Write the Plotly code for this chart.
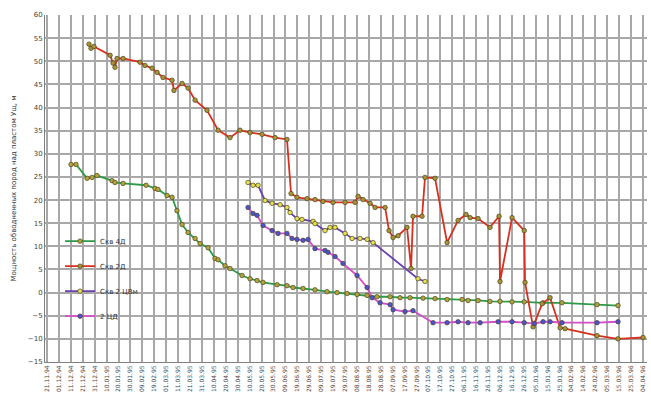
import pandas as pd
import plotly.graph_objects as go

# Start of observations; x values are days since this date
start = pd.Timestamp("1994-11-21")

# Скв 4Д
days_4d = [20.1, 24.3, 33.6, 37.8, 41.9, 54.5, 57.0, 63.8, 83.1, 90.6, 93.1, 100.7, 104.9,
           109.0, 113.3, 118.3, 124.2, 128.4, 135.1, 140.9, 143.5, 149.3, 153.5, 163.6,
           170.3, 176.2, 181.2, 193.0, 201.3, 206.4, 214.8, 224.8, 234.9, 243.3, 251.7,
           260.1, 268.5, 276.8, 287.8, 296.1, 304.5, 315.4, 325.5, 335.6, 348.2, 353.2,
           361.6, 371.6, 380.0, 390.1, 400.3, 416.1, 432.0, 461.4, 479.0]
vals_4d = [27.7, 27.7, 24.7, 24.9, 25.3, 24.2, 23.8, 23.6, 23.2, 22.5, 22.3, 21.0, 20.6,
           17.7, 14.7, 13.0, 11.7, 10.6, 9.7, 7.4, 7.1, 5.8, 5.2, 3.7,
           3.0, 2.6, 2.2, 1.7, 1.5, 1.1, 0.9, 0.6, 0.2, 0.0, -0.2,
           -0.4, -0.6, -0.9, -0.9, -1.1, -1.1, -1.2, -1.3, -1.5, -1.5, -1.7,
           -1.7, -1.9, -1.9, -2.0, -2.0, -2.2, -2.2, -2.6, -2.8]

# Скв 2Д
days_2d = [35.2, 36.9, 39.4, 52.9, 55.4, 57.0, 58.7, 63.8, 78.0, 82.2, 88.1, 92.3, 97.3,
           104.9, 106.5, 113.3, 118.3, 124.2, 134.2, 143.5, 153.5, 161.9, 170.3, 180.4,
           191.3, 201.3, 204.7, 209.7, 218.1, 224.8, 231.5, 239.9, 250.0, 258.4, 260.9,
           265.1, 271.0, 275.2, 283.6, 286.9, 290.3, 294.5, 302.0, 305.4, 307.0, 314.6,
           317.1, 325.5, 335.6, 344.8, 351.5, 354.9, 361.6, 371.6, 379.2, 380.0, 390.1,
           400.3, 401.0, 407.7, 415.3, 422.0, 430.4, 434.6, 461.4, 479.0, 500.0]
vals_2d = [53.7, 52.8, 53.2, 51.3, 49.6, 48.7, 50.6, 50.6, 49.8, 49.1, 48.5, 47.6, 46.5,
           45.9, 43.7, 45.2, 44.2, 41.6, 39.4, 35.1, 33.5, 35.1, 34.6, 34.2,
           33.5, 33.1, 21.4, 20.6, 20.3, 20.1, 19.7, 19.5, 19.5, 19.5, 20.8,
           20.1, 19.3, 18.4, 18.4, 13.4, 11.9, 12.3, 14.1, 5.2, 16.5, 16.5,
           24.9, 24.7, 10.8, 15.6, 16.9, 16.2, 16.0, 14.1, 16.5, 2.4, 16.2,
           13.4, 2.2, -7.4, -2.4, -1.1, -7.6, -7.8, -9.3, -10.0, -9.7]

# Скв 2 ЦВм
days_2cv = [168.6, 172.8, 177.0, 182.9, 188.8, 195.5, 201.3, 203.9, 209.7, 213.9, 223.2,
            224.8, 233.2, 237.4, 241.6, 250.0, 255.9, 262.6, 268.5, 273.5, 311.2, 317.1]
vals_2cv = [23.8, 23.2, 23.2, 19.9, 19.3, 19.0, 18.4, 17.3, 16.0, 15.8, 15.4,
            14.9, 13.4, 14.1, 14.1, 12.8, 11.7, 11.7, 11.5, 10.8, 3.0, 2.4]

# 2 ЦД
days_2cd = [168.6, 172.8, 176.2, 181.2, 188.8, 193.8, 201.3, 205.5, 209.7, 214.8, 219.0,
            224.8, 233.2, 235.7, 241.6, 248.3, 260.1, 268.5, 272.7, 279.4, 287.8, 290.3,
            300.3, 307.0, 323.8, 335.6, 344.8, 353.2, 363.3, 378.4, 390.1, 400.3, 408.7,
            416.1, 422.0, 432.0, 461.4, 479.0]
vals_2cd = [18.4, 17.1, 16.7, 14.5, 13.4, 12.8, 12.8, 11.7, 11.5, 11.3, 11.5,
            9.5, 9.1, 8.7, 7.8, 6.3, 3.7, 1.1, -1.1, -2.2, -2.6, -3.7,
            -4.1, -3.9, -6.5, -6.5, -6.3, -6.5, -6.5, -6.3, -6.3, -6.5, -6.7,
            -6.3, -6.3, -6.5, -6.5, -6.3]

series = [
    ("Скв 4Д", days_4d, vals_4d, "#2e9a48", "#b4a43a"),
    ("Скв 2Д", days_2d, vals_2d, "#d8301e", "#a89434"),
    ("Скв 2 ЦВм", days_2cv, vals_2cv, "#6a3fb0", "#e6e24a"),
    ("2 ЦД", days_2cd, vals_2cd, "#d24fc8", "#4a52d8"),
]


def to_dates(days):
    return start + pd.to_timedelta(days, unit="D")


fig = go.Figure()
for i, (name, d, v, lc, mc) in enumerate(series):
    fig.add_trace(go.Scatter(
        x=to_dates(d), y=v, name=name, mode="lines+markers",
        legendgroup=str(i),
        line=dict(color=lc, width=1.8),
        marker=dict(symbol="circle", size=4.5, color=mc,
                    line=dict(color="#4a4420", width=0.7)),
    ))

x_lo = start - pd.Timedelta(days=1.7)
x_hi = start + pd.Timedelta(days=503.3)

fig.update_layout(
    width=651, height=403,
    margin=dict(l=45, r=4, t=15, b=41),
    paper_bgcolor="white", plot_bgcolor="white",
    font=dict(family="DejaVu Sans", size=8, color="#333333"),
    showlegend=True,
    legend=dict(
        x=0.025, y=0.39, xanchor="left", yanchor="top",
        bgcolor="rgba(0,0,0,0)", tracegroupgap=6,
        font=dict(size=7, color="#333333"), itemwidth=30,
    ),
    xaxis=dict(
        type="date", range=[x_lo, x_hi],
        tick0=start, dtick=10 * 86400000, tickformat="%d.%m.%y",
        tickangle=-90, tickfont=dict(size=6, color="#444444"),
        showgrid=True, gridcolor="#a8a8a8", gridwidth=1.5,
        showline=True, linecolor="#808080", linewidth=1,
        ticks="", zeroline=False,
    ),
    yaxis=dict(
        range=[-15, 60], dtick=5,
        tickfont=dict(size=7, color="#444444"),
        showgrid=True, gridcolor="#a8a8a8", gridwidth=1.5,
        showline=True, linecolor="#808080", linewidth=1,
        ticks="", zeroline=False,
        title=dict(text="Мощность обводненных пород над пластом Ущ, м",
                   font=dict(size=7, color="#333333"), standoff=10),
    ),
)

fig.write_html("out.html")
